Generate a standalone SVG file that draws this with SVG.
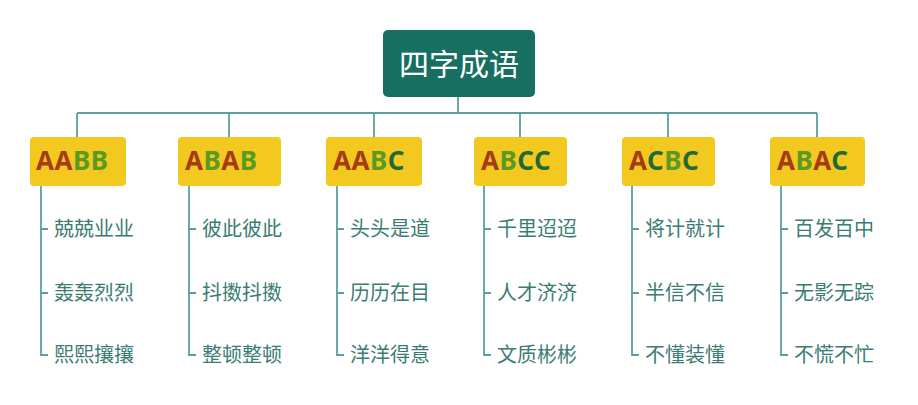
<svg xmlns="http://www.w3.org/2000/svg" width="918" height="405" viewBox="0 0 918 405">
<style>
.ln{fill:none;stroke:#5b9fa1;stroke-width:1.8}
.root{fill:#166f61}
.rt{font-family:"Noto Sans CJK SC","Noto Sans",sans-serif;font-size:30px;fill:#ffffff;text-anchor:middle}
.box{fill:#f3c91f}
.bt{font-family:"Noto Sans","Open Sans",sans-serif;font-weight:bold;font-size:26px;letter-spacing:0.5px}
.a{fill:#a53c16}.b{fill:#5a9a22}.c{fill:#1f6a35}
.it{font-family:"Noto Sans CJK SC",sans-serif;font-size:20px;fill:#3b7c74}
</style>
<rect width="918" height="405" fill="#ffffff"/>
<g id="connectors">
<path class="ln" d="M458 97V113M77 113H817M77 113V137M229 113V137M374 113V137M520 113V137M668 113V137M817 113V137"/>
<path class="ln" d="M41 186V355H48M41 229H48M41 293H48"/>
<path class="ln" d="M189 186V355H196M189 229H196M189 293H196"/>
<path class="ln" d="M337 186V355H344M337 229H344M337 293H344"/>
<path class="ln" d="M484 186V355H491M484 229H491M484 293H491"/>
<path class="ln" d="M632 186V355H639M632 229H639M632 293H639"/>
<path class="ln" d="M781 186V355H788M781 229H788M781 293H788"/>
</g>
<g id="root"><rect class="root" x="383" y="30" width="152" height="67" rx="5"/><text class="rt" x="459" y="75">四字成语</text></g>
<g id="n-aabb"><rect class="box" x="30" y="137" width="96" height="49" rx="4"/><text class="bt" x="36" y="170"><tspan class="a">AA</tspan><tspan class="b">BB</tspan></text></g>
<g id="n-abab"><rect class="box" x="178" y="137" width="103" height="49" rx="4"/><text class="bt" x="185" y="170"><tspan class="a">A</tspan><tspan class="b">B</tspan><tspan class="a">A</tspan><tspan class="b">B</tspan></text></g>
<g id="n-aabc"><rect class="box" x="326" y="137" width="96" height="49" rx="4"/><text class="bt" x="333" y="170"><tspan class="a">AA</tspan><tspan class="b">B</tspan><tspan class="c">C</tspan></text></g>
<g id="n-abcc"><rect class="box" x="474" y="137" width="93" height="49" rx="4"/><text class="bt" x="481" y="170"><tspan class="a">A</tspan><tspan class="b">B</tspan><tspan class="c">CC</tspan></text></g>
<g id="n-acbc"><rect class="box" x="622" y="137" width="93" height="49" rx="4"/><text class="bt" x="629" y="170"><tspan class="a">A</tspan><tspan class="c">C</tspan><tspan class="b">B</tspan><tspan class="c">C</tspan></text></g>
<g id="n-abac"><rect class="box" x="770" y="137" width="95" height="49" rx="4"/><text class="bt" x="777" y="170"><tspan class="a">A</tspan><tspan class="b">B</tspan><tspan class="a">A</tspan><tspan class="c">C</tspan></text></g>
<g id="items-aabb"><text class="it" x="54" y="236">兢兢业业</text><text class="it" x="54" y="300">轰轰烈烈</text><text class="it" x="54" y="362">熙熙攘攘</text></g>
<g id="items-abab"><text class="it" x="202" y="236">彼此彼此</text><text class="it" x="202" y="300">抖擞抖擞</text><text class="it" x="202" y="362">整顿整顿</text></g>
<g id="items-aabc"><text class="it" x="350" y="236">头头是道</text><text class="it" x="350" y="300">历历在目</text><text class="it" x="350" y="362">洋洋得意</text></g>
<g id="items-abcc"><text class="it" x="497" y="236">千里迢迢</text><text class="it" x="497" y="300">人才济济</text><text class="it" x="497" y="362">文质彬彬</text></g>
<g id="items-acbc"><text class="it" x="645" y="236">将计就计</text><text class="it" x="645" y="300">半信不信</text><text class="it" x="645" y="362">不懂装懂</text></g>
<g id="items-abac"><text class="it" x="794" y="236">百发百中</text><text class="it" x="794" y="300">无影无踪</text><text class="it" x="794" y="362">不慌不忙</text></g>
</svg>
